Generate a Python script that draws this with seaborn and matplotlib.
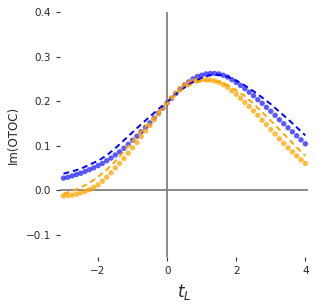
import numpy as np
import pandas as pd
import matplotlib
matplotlib.use("Agg")
import matplotlib.pyplot as plt
import seaborn as sns

# dotted series, sampled every 0.125 in t_L from -3 to 4
t_dots = np.arange(-3.0, 4.0001, 0.125)
blue_dots = [0.027, 0.029, 0.032, 0.035, 0.038, 0.042, 0.046, 0.050, 0.055, 0.060,
             0.066, 0.072, 0.079, 0.086, 0.094, 0.103, 0.112, 0.121, 0.131, 0.141,
             0.151, 0.162, 0.173, 0.184, 0.196, 0.206, 0.217, 0.227, 0.236, 0.243,
             0.250, 0.255, 0.258, 0.261, 0.262, 0.262, 0.261, 0.258, 0.254, 0.248,
             0.242, 0.235, 0.228, 0.220, 0.212, 0.203, 0.195, 0.186, 0.177, 0.168,
             0.158, 0.149, 0.140, 0.131, 0.122, 0.113, 0.104]
orange_dots = [-0.013, -0.012, -0.011, -0.009, -0.006, -0.003, 0.001, 0.006, 0.012, 0.020,
               0.029, 0.039, 0.050, 0.060, 0.071, 0.083, 0.095, 0.107, 0.120, 0.133,
               0.145, 0.158, 0.171, 0.184, 0.196, 0.207, 0.218, 0.228, 0.236, 0.241,
               0.245, 0.247, 0.248, 0.248, 0.247, 0.245, 0.242, 0.237, 0.231, 0.223,
               0.215, 0.206, 0.197, 0.188, 0.178, 0.168, 0.157, 0.147, 0.136, 0.126,
               0.115, 0.105, 0.095, 0.086, 0.077, 0.068, 0.060]

# dashed series, every 0.25
t_lines = np.arange(-3.0, 4.0001, 0.25)
blue_dash = [0.037, 0.042, 0.048, 0.057, 0.066, 0.078, 0.094, 0.112, 0.130, 0.148,
             0.165, 0.182, 0.198, 0.215, 0.230, 0.243, 0.252, 0.258, 0.259, 0.255,
             0.246, 0.235, 0.222, 0.208, 0.193, 0.176, 0.159, 0.141, 0.123]
orange_dash = [-0.008, -0.002, 0.006, 0.016, 0.030, 0.046, 0.065, 0.087, 0.110, 0.132,
               0.153, 0.175, 0.196, 0.214, 0.229, 0.239, 0.245, 0.246, 0.243, 0.236,
               0.224, 0.211, 0.194, 0.175, 0.156, 0.136, 0.116, 0.096, 0.077]

dots = pd.DataFrame({"t": t_dots, "blue": blue_dots, "orange": orange_dots})
lines = pd.DataFrame({"t": t_lines, "blue": blue_dash, "orange": orange_dash})

sns.set_style("ticks")
fig = plt.figure(figsize=(3.16, 3.07), dpi=100)
ax = fig.add_axes([0.19, 0.163, 0.785, 0.798])

ax.axhline(0, color="gray", lw=1.3, zorder=0)
ax.axvline(0, color="gray", lw=1.3, zorder=0)

sns.scatterplot(data=dots, x="t", y="blue", color="blue", alpha=0.65, s=15,
                edgecolor="none", ax=ax)
sns.scatterplot(data=dots, x="t", y="orange", color="orange", alpha=0.75, s=15,
                edgecolor="none", ax=ax)
sns.lineplot(data=lines, x="t", y="blue", color="blue", lw=1.4, ls=(0, (3, 2)), ax=ax)
sns.lineplot(data=lines, x="t", y="orange", color="orange", lw=1.4, ls=(0, (3, 2)), ax=ax)

ax.set_xlim(-3.1, 4.08)
ax.set_ylim(-0.15, 0.4)
ax.set_xticks([-2, 0, 2, 4])
ax.set_yticks([-0.1, 0.0, 0.1, 0.2, 0.3, 0.4])
ax.tick_params(labelsize=7.5, length=3, width=0.8, color="#333333")
ax.set_xlabel("$t_L$", fontsize=12)
ax.set_ylabel("Im(OTOC)", fontsize=8.5)
sns.despine(ax=ax, left=True, bottom=True)

fig.savefig("out.png", dpi=100)
